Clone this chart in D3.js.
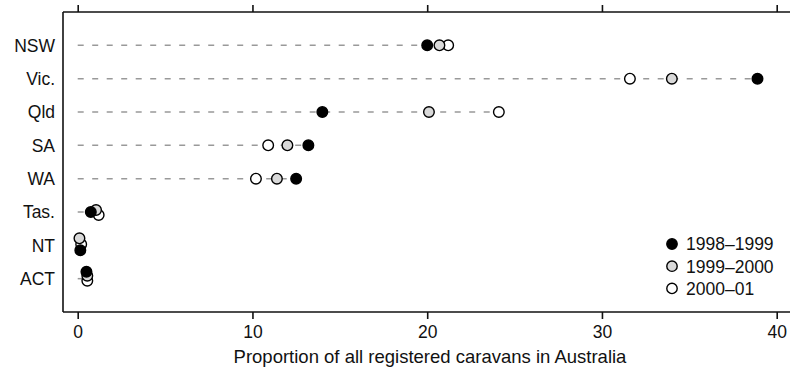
<!DOCTYPE html>
<html>
<head>
<meta charset="utf-8">
<script src="https://cdn.jsdelivr.net/npm/d3@7"></script>
<style>
  body { margin: 0; background: #fff; }
  text { font-family: "Liberation Sans", Arial, sans-serif; fill: #111; }
</style>
</head>
<body>
<div id="chart"></div>
<script>
// states, top to bottom
var states = ["NSW", "Vic.", "Qld", "SA", "WA", "Tas.", "NT", "ACT"];
var seriesNames = ["1998\u20131999", "1999\u20132000", "2000\u201301"];

// proportion of all registered caravans (%), one array per year
var y9899 = [20.0, 38.9, 14.0, 13.2, 12.5, 0.75, 0.15, 0.5];
var y9900 = [20.7, 34.0, 20.1, 12.0, 11.4, 1.05, 0.1, 0.55];
var y0001 = [21.2, 31.6, 24.1, 10.9, 10.2, 1.2, 0.2, 0.55];

var xTicks = [0, 10, 20, 30, 40];

// vertical nudges (px) for the small states so the markers don't sit on top of each other
var nudge = {
  "Tas.": [0, -2, 3],
  "NT":   [5, -7, -1],
  "ACT":  [-7, -3, 2]
};

var w = 790, h = 372;
var margin = {top: 12, right: 0, bottom: 60, left: 63};
var fills = ["#000", "#d9d9d9", "#fff"];
var seriesVals = [y9899, y9900, y0001];

var svg = d3.select("#chart").append("svg")
    .attr("width", w)
    .attr("height", h);

var x = d3.scaleLinear()
    .domain([0, 40])
    .range([77.7, 776.7]);

var y = d3.scalePoint()
    .domain(states)
    .range([margin.top, h - margin.bottom])
    .padding(1);

var bottomY = h - margin.bottom;

// frame: left, top, bottom
svg.append("line")
    .attr("x1", margin.left).attr("x2", margin.left)
    .attr("y1", margin.top).attr("y2", bottomY)
    .attr("stroke", "#111").attr("stroke-width", 1.6);

// top axis, ticks only
var topAxis = svg.append("g")
    .attr("transform", "translate(0," + margin.top + ")")
    .call(d3.axisTop(x).tickValues(xTicks).tickSize(7).tickFormat(""));
topAxis.select(".domain").remove();
topAxis.append("line")
    .attr("x1", margin.left).attr("x2", w)
    .attr("stroke", "#111").attr("stroke-width", 1.6);
topAxis.selectAll(".tick line").attr("stroke", "#111").attr("stroke-width", 1.6);

// bottom axis
var botAxis = svg.append("g")
    .attr("transform", "translate(0," + bottomY + ")")
    .call(d3.axisBottom(x).tickValues(xTicks).tickSize(7).tickPadding(7).tickFormat(d3.format("d")));
botAxis.select(".domain").remove();
botAxis.append("line")
    .attr("x1", margin.left).attr("x2", w)
    .attr("stroke", "#111").attr("stroke-width", 1.6);
botAxis.selectAll(".tick line").attr("stroke", "#111").attr("stroke-width", 1.6);
botAxis.selectAll(".tick text")
    .attr("font-size", "17.5px")
    .attr("font-family", "Liberation Sans, Arial, sans-serif")
    .attr("fill", "#111");

// axis title
svg.append("text")
    .attr("x", 430)
    .attr("y", 363)
    .attr("text-anchor", "middle")
    .attr("font-size", "18.5px")
    .text("Proportion of all registered caravans in Australia");

// state labels
svg.selectAll(".state-label")
    .data(states)
    .enter()
    .append("text")
    .attr("class", "state-label")
    .attr("x", 55)
    .attr("y", function(d) { return y(d); })
    .attr("dy", "0.36em")
    .attr("text-anchor", "end")
    .attr("font-size", "17.5px")
    .text(function(d) { return d; });

// dashed guide lines from 0 to the largest value
svg.selectAll(".guide")
    .data(states)
    .enter()
    .append("line")
    .attr("class", "guide")
    .attr("x1", x(0))
    .attr("x2", function(d, i) { return x(d3.max(seriesVals, function(s) { return s[i]; })); })
    .attr("y1", function(d) { return y(d); })
    .attr("y2", function(d) { return y(d); })
    .attr("stroke", "#999")
    .attr("stroke-width", 1.5)
    .attr("stroke-dasharray", "6,8.5");

// points: white first, black on top
var points = [];
[2, 1, 0].forEach(function(si) {
  states.forEach(function(st, i) {
    points.push({state: st, s: si, v: seriesVals[si][i]});
  });
});

svg.selectAll(".pt")
    .data(points)
    .enter()
    .append("circle")
    .attr("class", "pt")
    .attr("cx", function(d) { return x(d.v); })
    .attr("cy", function(d) { return y(d.state) + (nudge[d.state] ? nudge[d.state][d.s] : 0); })
    .attr("r", 5.3)
    .attr("fill", function(d) { return fills[d.s]; })
    .attr("stroke", "#000")
    .attr("stroke-width", 1.4);

// legend
var legend = svg.append("g").attr("transform", "translate(672,244)");
var li = legend.selectAll("g")
    .data(seriesNames)
    .enter()
    .append("g")
    .attr("transform", function(d, i) { return "translate(0," + (i * 22.2) + ")"; });
li.append("circle")
    .attr("r", 5.2)
    .attr("fill", function(d, i) { return fills[i]; })
    .attr("stroke", "#000")
    .attr("stroke-width", 1.4);
li.append("text")
    .attr("x", 14)
    .attr("dy", "0.36em")
    .attr("font-size", "17.5px")
    .text(function(d) { return d; });
</script>
</body>
</html>
